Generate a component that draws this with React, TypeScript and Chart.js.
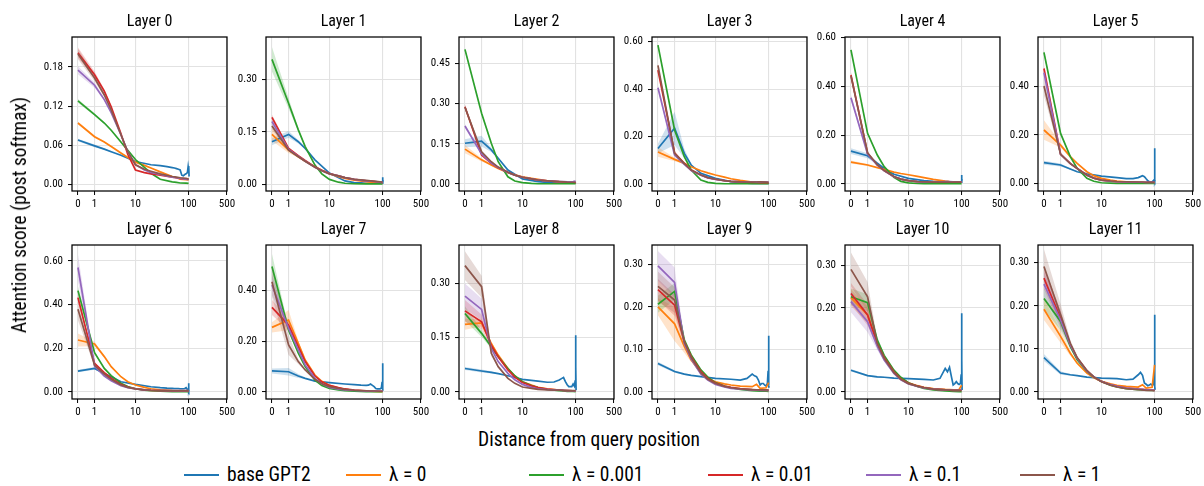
import React, { useEffect, useRef } from "react";
import { Chart, registerables } from "chart.js";

Chart.register(...registerables);

const FONT = "'Roboto Condensed', 'Liberation Sans Narrow', 'DejaVu Sans Condensed', Roboto, sans-serif";

const SERIES_LABELS = ["base GPT2", "λ = 0", "λ = 0.001", "λ = 0.01", "λ = 0.1", "λ = 1"];
const COLORS = ["#1f77b4", "#ff7f0e", "#2ca02c", "#d62728", "#9467bd", "#8c564b"];
const BAND_COLORS = [
  "rgba(31,119,180,0.22)",
  "rgba(255,127,14,0.22)",
  "rgba(44,160,44,0.22)",
  "rgba(214,39,40,0.22)",
  "rgba(148,103,189,0.22)",
  "rgba(140,86,75,0.22)",
];

// distance axis (log(1+d) scale)
const X_TICKS = [0, 1, 10, 100, 500];
const X_RANGE = [-0.22, 500];
// distances sampled for the λ models
const DIST = [0, 1, 2, 3, 5, 7, 10, 15, 20, 30, 50, 60, 70, 90, 100];
// distances sampled for base GPT2 (denser near the end)
const BASE_DIST = [0, 1, 2, 3, 5, 10, 20, 30, 40, 50, 55, 60, 65, 70, 75, 80, 85, 90, 95, 98, 100, 101, 102];
// band half-widths are given at the first four distances
const BAND_DIST_COUNT = 4;

// ---------- Layer 0 ----------
const L0_BASE = [0.068, 0.059, 0.054, 0.05, 0.0445, 0.035, 0.03, 0.0286, 0.027, 0.0256, 0.025, 0.024, 0.023, 0.022, 0.014, 0.013, 0.015, 0.016, 0.018, 0.027, 0.02, 0.028, 0.012];
const L0_LAMBDA = [
  [0.094, 0.073, 0.065, 0.058, 0.048, 0.041, 0.034, 0.029, 0.025, 0.019, 0.012, 0.01, 0.008, 0.007, 0.0067],
  [0.128, 0.107, 0.094, 0.083, 0.065, 0.052, 0.038, 0.026, 0.017, 0.0077, 0.0036, 0.0028, 0.002, 0.0017, 0.0015],
  [0.202, 0.168, 0.143, 0.119, 0.078, 0.046, 0.022, 0.018, 0.016, 0.014, 0.011, 0.01, 0.009, 0.008, 0.008],
  [0.175, 0.152, 0.13, 0.11, 0.076, 0.05, 0.03, 0.022, 0.018, 0.015, 0.011, 0.01, 0.009, 0.008, 0.007],
  [0.2, 0.163, 0.137, 0.114, 0.076, 0.05, 0.03, 0.023, 0.02, 0.016, 0.012, 0.011, 0.01, 0.009, 0.008],
];
const L0_BAND = [[0.002, 0.002, 0.001, 0.001], [0.002, 0.002, 0.001, 0.001], [0.003, 0.002, 0.001, 0.001], [0.008, 0.005, 0.003, 0.002], [0.006, 0.004, 0.002, 0.001], [0.008, 0.005, 0.003, 0.002]];
const L0_YTICKS = [0, 0.06, 0.12, 0.18];
const L0_YRANGE = [-0.0103, 0.226];

// ---------- Layer 1 ----------
const L1_BASE = [0.122, 0.143, 0.122, 0.103, 0.07, 0.032, 0.0096, 0.005, 0.004, 0.003, 0.003, 0.003, 0.003, 0.003, 0.003, 0.003, 0.003, 0.003, 0.003, 0.003, 0.02, 0.003, 0.012];
const L1_LAMBDA = [
  [0.143, 0.098, 0.079, 0.066, 0.05, 0.04, 0.03, 0.022, 0.017, 0.012, 0.0076, 0.0065, 0.0055, 0.0045, 0.004],
  [0.358, 0.232, 0.156, 0.108, 0.055, 0.03, 0.014, 0.006, 0.003, 0.0015, 0.001, 0.001, 0.001, 0.001, 0.001],
  [0.192, 0.103, 0.082, 0.068, 0.05, 0.04, 0.031, 0.024, 0.019, 0.014, 0.01, 0.009, 0.008, 0.006, 0.005],
  [0.18, 0.1, 0.08, 0.066, 0.049, 0.039, 0.03, 0.024, 0.019, 0.014, 0.01, 0.009, 0.008, 0.006, 0.005],
  [0.167, 0.098, 0.079, 0.066, 0.049, 0.039, 0.03, 0.024, 0.019, 0.0145, 0.011, 0.01, 0.009, 0.007, 0.006],
];
const L1_BAND = [[0.01, 0.01, 0.005, 0.002], [0.018, 0.008, 0.003, 0.002], [0.035, 0.015, 0.005, 0.002], [0.008, 0.004, 0.002, 0.001], [0.01, 0.004, 0.002, 0.001], [0.01, 0.004, 0.002, 0.001]];
const L1_YTICKS = [0, 0.15, 0.3];
const L1_YRANGE = [-0.0192, 0.422];

// ---------- Layer 2 ----------
const L2_BASE = [0.152, 0.16, 0.127, 0.096, 0.052, 0.019, 0.009, 0.006, 0.005, 0.005, 0.0045, 0.0045, 0.004, 0.004, 0.004, 0.004, 0.004, 0.004, 0.004, 0.004, 0.004, 0.004, 0.004];
const L2_LAMBDA = [
  [0.13, 0.09, 0.071, 0.058, 0.042, 0.034, 0.027, 0.021, 0.017, 0.012, 0.0075, 0.0065, 0.0055, 0.0045, 0.004],
  [0.502, 0.264, 0.152, 0.083, 0.027, 0.011, 0.005, 0.002, 0.001, 0.001, 0.001, 0.001, 0.001, 0.001, 0.001],
  [0.288, 0.108, 0.077, 0.061, 0.0435, 0.033, 0.025, 0.019, 0.015, 0.012, 0.0087, 0.008, 0.007, 0.0065, 0.006],
  [0.216, 0.112, 0.078, 0.061, 0.043, 0.033, 0.025, 0.019, 0.015, 0.012, 0.009, 0.0085, 0.008, 0.009, 0.011],
  [0.286, 0.12, 0.083, 0.063, 0.044, 0.033, 0.025, 0.019, 0.015, 0.012, 0.009, 0.008, 0.007, 0.0065, 0.006],
];
const L2_BAND = [[0.015, 0.02, 0.008, 0.003], [0.015, 0.006, 0.003, 0.002], [0.006, 0.004, 0.002, 0.001], [0.008, 0.004, 0.002, 0.001], [0.008, 0.004, 0.002, 0.001], [0.01, 0.004, 0.002, 0.001]];
const L2_YTICKS = [0, 0.15, 0.3, 0.45];
const L2_YRANGE = [-0.0261, 0.548];

// ---------- Layer 3 ----------
const L3_BASE = [0.15, 0.235, 0.129, 0.08, 0.045, 0.024, 0.01, 0.006, 0.004, 0.003, 0.003, 0.003, 0.003, 0.003, 0.003, 0.003, 0.003, 0.003, 0.003, 0.003, 0.003, 0.003, 0.003];
const L3_LAMBDA = [
  [0.135, 0.104, 0.087, 0.073, 0.056, 0.047, 0.038, 0.029, 0.022, 0.015, 0.0085, 0.007, 0.006, 0.005, 0.004],
  [0.586, 0.228, 0.115, 0.059, 0.017, 0.007, 0.003, 0.001, 0.001, 0.001, 0.001, 0.001, 0.001, 0.001, 0.001],
  [0.48, 0.132, 0.087, 0.059, 0.038, 0.027, 0.02, 0.014, 0.011, 0.009, 0.007, 0.0065, 0.006, 0.006, 0.006],
  [0.406, 0.122, 0.083, 0.057, 0.037, 0.026, 0.019, 0.014, 0.011, 0.009, 0.008, 0.008, 0.008, 0.008, 0.008],
  [0.5, 0.129, 0.086, 0.059, 0.038, 0.027, 0.02, 0.014, 0.011, 0.009, 0.008, 0.0085, 0.009, 0.008, 0.007],
];
const L3_BAND = [[0.02, 0.07, 0.02, 0.005], [0.02, 0.008, 0.003, 0.002], [0.006, 0.004, 0.002, 0.001], [0.01, 0.004, 0.002, 0.001], [0.01, 0.004, 0.002, 0.001], [0.01, 0.004, 0.002, 0.001]];
const L3_YTICKS = [0, 0.2, 0.4, 0.6];
const L3_YRANGE = [-0.0295, 0.62];

// ---------- Layer 4 ----------
const L4_BASE = [0.135, 0.116, 0.085, 0.064, 0.04, 0.023, 0.014, 0.011, 0.01, 0.01, 0.0095, 0.009, 0.009, 0.0085, 0.0085, 0.008, 0.008, 0.008, 0.008, 0.008, 0.037, 0.01, 0.02];
const L4_LAMBDA = [
  [0.09, 0.078, 0.067, 0.06, 0.049, 0.043, 0.038, 0.031, 0.026, 0.019, 0.012, 0.01, 0.009, 0.008, 0.008],
  [0.55, 0.208, 0.119, 0.071, 0.027, 0.011, 0.005, 0.002, 0.001, 0.001, 0.001, 0.001, 0.001, 0.001, 0.001],
  [0.447, 0.126, 0.078, 0.055, 0.03, 0.02, 0.014, 0.01, 0.008, 0.008, 0.008, 0.009, 0.009, 0.008, 0.008],
  [0.354, 0.123, 0.077, 0.054, 0.03, 0.02, 0.014, 0.01, 0.008, 0.008, 0.01, 0.01, 0.009, 0.008, 0.008],
  [0.443, 0.128, 0.079, 0.055, 0.031, 0.02, 0.014, 0.01, 0.009, 0.008, 0.008, 0.008, 0.008, 0.008, 0.008],
];
const L4_BAND = [[0.012, 0.01, 0.005, 0.002], [0.006, 0.004, 0.002, 0.001], [0.006, 0.004, 0.002, 0.001], [0.012, 0.004, 0.002, 0.001], [0.012, 0.004, 0.002, 0.001], [0.015, 0.004, 0.002, 0.001]];
const L4_YTICKS = [0, 0.2, 0.4, 0.6];
const L4_YRANGE = [-0.0287, 0.603];

// ---------- Layer 5 ----------
const L5_BASE = [0.086, 0.0765, 0.06, 0.049, 0.04, 0.031, 0.025, 0.021, 0.021, 0.025, 0.029, 0.033, 0.029, 0.02, 0.012, 0.008, 0.006, 0.008, 0.013, 0.016, 0.145, 0.01, 0.015];
const L5_LAMBDA = [
  [0.22, 0.158, 0.111, 0.083, 0.049, 0.033, 0.022, 0.015, 0.011, 0.008, 0.0055, 0.005, 0.004, 0.0035, 0.003],
  [0.538, 0.206, 0.111, 0.063, 0.022, 0.01, 0.004, 0.002, 0.001, 0.001, 0.001, 0.001, 0.001, 0.001, 0.001],
  [0.472, 0.121, 0.083, 0.063, 0.0355, 0.023, 0.015, 0.01, 0.008, 0.007, 0.006, 0.006, 0.0055, 0.0055, 0.0055],
  [0.455, 0.12, 0.082, 0.062, 0.035, 0.023, 0.015, 0.01, 0.008, 0.007, 0.006, 0.006, 0.0055, 0.0055, 0.0055],
  [0.4, 0.12, 0.082, 0.062, 0.035, 0.023, 0.015, 0.011, 0.009, 0.008, 0.007, 0.007, 0.006, 0.006, 0.006],
];
const L5_BAND = [[0.008, 0.006, 0.003, 0.001], [0.04, 0.01, 0.005, 0.002], [0.01, 0.004, 0.002, 0.001], [0.015, 0.004, 0.002, 0.001], [0.02, 0.004, 0.002, 0.001], [0.04, 0.006, 0.002, 0.001]];
const L5_YTICKS = [0, 0.2, 0.4];
const L5_YRANGE = [-0.0299, 0.601];

// ---------- Layer 6 ----------
const L6_BASE = [0.096, 0.108, 0.085, 0.07, 0.047, 0.035, 0.024, 0.02, 0.018, 0.017, 0.016, 0.016, 0.016, 0.015, 0.015, 0.015, 0.016, 0.02, 0.012, 0.012, 0.04, 0.005, 0.01];
const L6_LAMBDA = [
  [0.238, 0.22, 0.162, 0.116, 0.07, 0.047, 0.032, 0.021, 0.015, 0.01, 0.006, 0.005, 0.004, 0.0035, 0.003],
  [0.464, 0.18, 0.108, 0.075, 0.04, 0.025, 0.015, 0.009, 0.006, 0.004, 0.002, 0.002, 0.002, 0.002, 0.002],
  [0.432, 0.131, 0.089, 0.063, 0.035, 0.023, 0.015, 0.01, 0.0076, 0.006, 0.005, 0.005, 0.005, 0.005, 0.005],
  [0.57, 0.119, 0.073, 0.052, 0.029, 0.02, 0.014, 0.01, 0.008, 0.007, 0.006, 0.006, 0.006, 0.006, 0.006],
  [0.379, 0.122, 0.082, 0.058, 0.032, 0.021, 0.014, 0.01, 0.008, 0.007, 0.006, 0.006, 0.006, 0.006, 0.006],
];
const L6_BAND = [[0.006, 0.006, 0.003, 0.001], [0.03, 0.01, 0.004, 0.002], [0.02, 0.006, 0.002, 0.001], [0.02, 0.006, 0.002, 0.001], [0.06, 0.008, 0.003, 0.001], [0.05, 0.008, 0.003, 0.001]];
const L6_YTICKS = [0, 0.2, 0.4, 0.6];
const L6_YRANGE = [-0.032, 0.673];

// ---------- Layer 7 ----------
const L7_BASE = [0.083, 0.08, 0.063, 0.054, 0.043, 0.037, 0.0316, 0.029, 0.027, 0.026, 0.027, 0.0316, 0.026, 0.021, 0.014, 0.012, 0.012, 0.012, 0.016, 0.04, 0.113, 0.01, 0.005];
const L7_LAMBDA = [
  [0.255, 0.284, 0.192, 0.126, 0.067, 0.042, 0.026, 0.016, 0.0105, 0.007, 0.004, 0.003, 0.0025, 0.0018, 0.0013],
  [0.495, 0.245, 0.153, 0.1, 0.047, 0.026, 0.0145, 0.008, 0.005, 0.003, 0.001, 0.001, 0.001, 0.001, 0.001],
  [0.334, 0.264, 0.179, 0.12, 0.063, 0.04, 0.026, 0.017, 0.012, 0.008, 0.005, 0.004, 0.004, 0.003, 0.003],
  [0.422, 0.251, 0.166, 0.107, 0.054, 0.032, 0.018, 0.011, 0.008, 0.006, 0.004, 0.004, 0.0035, 0.003, 0.003],
  [0.435, 0.186, 0.12, 0.087, 0.05, 0.033, 0.021, 0.014, 0.0105, 0.007, 0.005, 0.004, 0.004, 0.003, 0.003],
];
const L7_BAND = [[0.01, 0.015, 0.008, 0.003], [0.02, 0.04, 0.01, 0.004], [0.05, 0.01, 0.004, 0.002], [0.03, 0.02, 0.006, 0.002], [0.04, 0.01, 0.004, 0.002], [0.06, 0.04, 0.01, 0.004]];
const L7_YTICKS = [0, 0.2, 0.4];
const L7_YRANGE = [-0.0276, 0.58];

// ---------- Layer 8 ----------
const L8_BASE = [0.065, 0.058, 0.054, 0.0506, 0.045, 0.035, 0.03, 0.027, 0.0276, 0.033, 0.037, 0.04, 0.0285, 0.02, 0.015, 0.015, 0.015, 0.022, 0.016, 0.03, 0.157, 0.07, 0.005];
const L8_LAMBDA = [
  [0.187, 0.191, 0.134, 0.102, 0.065, 0.044, 0.0285, 0.019, 0.013, 0.009, 0.0055, 0.0045, 0.004, 0.0035, 0.003],
  [0.217, 0.162, 0.125, 0.0975, 0.065, 0.045, 0.0285, 0.018, 0.012, 0.007, 0.004, 0.003, 0.002, 0.0015, 0.001],
  [0.224, 0.194, 0.129, 0.0975, 0.061, 0.041, 0.026, 0.017, 0.012, 0.008, 0.0055, 0.0045, 0.004, 0.0035, 0.003],
  [0.265, 0.228, 0.12, 0.084, 0.0515, 0.034, 0.021, 0.013, 0.009, 0.007, 0.005, 0.0045, 0.004, 0.0035, 0.003],
  [0.349, 0.291, 0.107, 0.07, 0.0377, 0.024, 0.0138, 0.01, 0.0074, 0.006, 0.005, 0.0045, 0.004, 0.004, 0.004],
];
const L8_BAND = [[0.004, 0.004, 0.003, 0.001], [0.015, 0.01, 0.005, 0.002], [0.02, 0.01, 0.005, 0.002], [0.03, 0.02, 0.006, 0.002], [0.035, 0.03, 0.008, 0.003], [0.04, 0.03, 0.008, 0.003]];
const L8_YTICKS = [0, 0.15, 0.3];
const L8_YRANGE = [-0.0193, 0.406];

// ---------- Layer 9 ----------
const L9_BASE = [0.067, 0.048, 0.042, 0.039, 0.036, 0.032, 0.03, 0.028, 0.032, 0.042, 0.038, 0.036, 0.028, 0.0165, 0.02, 0.02, 0.016, 0.014, 0.02, 0.05, 0.132, 0.015, 0.01];
const L9_LAMBDA = [
  [0.2, 0.16, 0.107, 0.075, 0.045, 0.032, 0.024, 0.019, 0.0165, 0.014, 0.0125, 0.018, 0.0086, 0.01, 0.022],
  [0.206, 0.236, 0.122, 0.087, 0.052, 0.035, 0.022, 0.014, 0.01, 0.006, 0.003, 0.0025, 0.002, 0.0018, 0.0016],
  [0.24, 0.204, 0.118, 0.083, 0.048, 0.032, 0.021, 0.014, 0.011, 0.008, 0.0055, 0.005, 0.0045, 0.004, 0.004],
  [0.296, 0.257, 0.114, 0.077, 0.042, 0.028, 0.018, 0.012, 0.0086, 0.0065, 0.005, 0.0045, 0.004, 0.004, 0.004],
  [0.248, 0.216, 0.118, 0.081, 0.045, 0.03, 0.02, 0.013, 0.01, 0.0075, 0.0055, 0.005, 0.005, 0.0048, 0.0047],
];
const L9_BAND = [[0.004, 0.003, 0.002, 0.001], [0.02, 0.04, 0.015, 0.005], [0.02, 0.02, 0.008, 0.003], [0.025, 0.025, 0.008, 0.003], [0.035, 0.035, 0.01, 0.003], [0.035, 0.03, 0.008, 0.003]];
const L9_YTICKS = [0, 0.1, 0.2, 0.3];
const L9_YRANGE = [-0.0164, 0.345];

// ---------- Layer 10 ----------
const L10_BASE = [0.0515, 0.039, 0.036, 0.035, 0.033, 0.032, 0.03, 0.0285, 0.0325, 0.056, 0.048, 0.0586, 0.0364, 0.0166, 0.02, 0.0245, 0.02, 0.018, 0.02, 0.04, 0.187, 0.076, 0.005];
const L10_LAMBDA = [
  [0.224, 0.183, 0.114, 0.08, 0.048, 0.032, 0.022, 0.015, 0.011, 0.008, 0.0063, 0.006, 0.005, 0.006, 0.016],
  [0.226, 0.212, 0.123, 0.087, 0.052, 0.035, 0.022, 0.013, 0.0087, 0.005, 0.0024, 0.002, 0.0015, 0.001, 0.001],
  [0.234, 0.183, 0.115, 0.082, 0.048, 0.031, 0.0206, 0.014, 0.0103, 0.007, 0.005, 0.0045, 0.004, 0.004, 0.004],
  [0.2145, 0.167, 0.108, 0.076, 0.044, 0.029, 0.019, 0.013, 0.0095, 0.007, 0.005, 0.0045, 0.004, 0.004, 0.005],
  [0.291, 0.226, 0.115, 0.08, 0.046, 0.03, 0.0198, 0.014, 0.0103, 0.007, 0.005, 0.0045, 0.004, 0.004, 0.004],
];
const L10_BAND = [[0.003, 0.002, 0.002, 0.001], [0.02, 0.02, 0.008, 0.003], [0.02, 0.02, 0.008, 0.003], [0.025, 0.025, 0.008, 0.003], [0.025, 0.025, 0.008, 0.003], [0.04, 0.035, 0.01, 0.003]];
const L10_YTICKS = [0, 0.1, 0.2, 0.3];
const L10_YRANGE = [-0.0166, 0.349];

// ---------- Layer 11 ----------
const L11_BASE = [0.08, 0.044, 0.04, 0.038, 0.0347, 0.0324, 0.031, 0.0285, 0.03, 0.04, 0.0455, 0.0386, 0.0208, 0.018, 0.0147, 0.016, 0.0185, 0.016, 0.017, 0.04, 0.179, 0.013, 0.005];
const L11_LAMBDA = [
  [0.192, 0.129, 0.09, 0.067, 0.044, 0.033, 0.0247, 0.019, 0.0154, 0.013, 0.0116, 0.017, 0.0093, 0.011, 0.063],
  [0.217, 0.1635, 0.106, 0.075, 0.048, 0.035, 0.0247, 0.016, 0.0116, 0.008, 0.0054, 0.005, 0.0045, 0.004, 0.004],
  [0.264, 0.171, 0.11, 0.0787, 0.049, 0.035, 0.0247, 0.017, 0.013, 0.009, 0.007, 0.006, 0.005, 0.0045, 0.0039],
  [0.25, 0.167, 0.109, 0.078, 0.049, 0.035, 0.0245, 0.017, 0.013, 0.009, 0.007, 0.006, 0.005, 0.0045, 0.004],
  [0.291, 0.179, 0.113, 0.08, 0.05, 0.035, 0.024, 0.016, 0.0116, 0.008, 0.0054, 0.005, 0.004, 0.0035, 0.003],
];
const L11_BAND = [[0.008, 0.004, 0.002, 0.001], [0.025, 0.015, 0.006, 0.002], [0.025, 0.02, 0.006, 0.002], [0.025, 0.02, 0.006, 0.002], [0.03, 0.02, 0.006, 0.002], [0.04, 0.025, 0.008, 0.003]];
const L11_YTICKS = [0, 0.1, 0.2, 0.3];
const L11_YRANGE = [-0.0162, 0.341];

const PANELS = [
  { base: L0_BASE, lambda: L0_LAMBDA, band: L0_BAND, yTicks: L0_YTICKS, yRange: L0_YRANGE },
  { base: L1_BASE, lambda: L1_LAMBDA, band: L1_BAND, yTicks: L1_YTICKS, yRange: L1_YRANGE },
  { base: L2_BASE, lambda: L2_LAMBDA, band: L2_BAND, yTicks: L2_YTICKS, yRange: L2_YRANGE },
  { base: L3_BASE, lambda: L3_LAMBDA, band: L3_BAND, yTicks: L3_YTICKS, yRange: L3_YRANGE },
  { base: L4_BASE, lambda: L4_LAMBDA, band: L4_BAND, yTicks: L4_YTICKS, yRange: L4_YRANGE },
  { base: L5_BASE, lambda: L5_LAMBDA, band: L5_BAND, yTicks: L5_YTICKS, yRange: L5_YRANGE },
  { base: L6_BASE, lambda: L6_LAMBDA, band: L6_BAND, yTicks: L6_YTICKS, yRange: L6_YRANGE },
  { base: L7_BASE, lambda: L7_LAMBDA, band: L7_BAND, yTicks: L7_YTICKS, yRange: L7_YRANGE },
  { base: L8_BASE, lambda: L8_LAMBDA, band: L8_BAND, yTicks: L8_YTICKS, yRange: L8_YRANGE },
  { base: L9_BASE, lambda: L9_LAMBDA, band: L9_BAND, yTicks: L9_YTICKS, yRange: L9_YRANGE },
  { base: L10_BASE, lambda: L10_LAMBDA, band: L10_BAND, yTicks: L10_YTICKS, yRange: L10_YRANGE },
  { base: L11_BASE, lambda: L11_LAMBDA, band: L11_BAND, yTicks: L11_YTICKS, yRange: L11_YRANGE },
];

// ---------- layout ----------
const PANEL_LEFTS = [72, 266, 459, 652, 845, 1038];
const ROW_TOPS = [37, 245];
const PLOT_W = 155;
const PLOT_H = 154;
const Y_AXIS_W = 48;
const TITLE_H = 30;
const X_AXIS_H = 24;
const RIGHT_PAD = 16;
const CANVAS_W = Y_AXIS_W + PLOT_W + RIGHT_PAD;
const CANVAS_H = TITLE_H + PLOT_H + X_AXIS_H;
const LEGEND_LINE_X = [184, 346, 529, 708, 866, 1020];

const frame = {
  id: "frame",
  afterDatasetsDraw(chart: any) {
    const { ctx, chartArea: a } = chart;
    ctx.save();
    ctx.strokeStyle = "#000";
    ctx.lineWidth = 1.25;
    ctx.strokeRect(a.left, a.top, a.right - a.left, a.bottom - a.top);
    ctx.restore();
  },
};

function Panel({ idx }: { idx: number }) {
  const ref = useRef<HTMLCanvasElement | null>(null);
  useEffect(() => {
    const p = PANELS[idx];
    const series = [
      { dist: BASE_DIST, vals: p.base },
      ...p.lambda.map((v) => ({ dist: DIST, vals: v })),
    ];
    const datasets: any[] = [];
    series.forEach((s, i) => {
      const n = BAND_DIST_COUNT;
      const bw = p.band[i];
      datasets.push({
        data: bw.slice(0, n).map((w, k) => ({ x: s.dist[k] + 1, y: s.vals[k] + w })),
        borderColor: "rgba(0,0,0,0)",
        borderWidth: 1,
        pointRadius: 0,
        fill: false,
        order: 30 - i,
      });
      datasets.push({
        data: bw.slice(0, n).map((w, k) => ({ x: s.dist[k] + 1, y: s.vals[k] - w })),
        borderColor: "rgba(0,0,0,0)",
        borderWidth: 1,
        pointRadius: 0,
        fill: "-1",
        backgroundColor: BAND_COLORS[i],
        order: 30 - i,
      });
    });
    series.forEach((s, i) => {
      datasets.push({
        label: SERIES_LABELS[i],
        data: s.dist.map((d, k) => ({ x: d + 1, y: s.vals[k] })),
        borderColor: COLORS[i],
        borderWidth: 1.7,
        pointRadius: 0,
        fill: false,
        tension: 0,
        order: 10 - i,
      });
    });
    const tickFont = { family: FONT, size: 11 };
    const chart = new Chart(ref.current as HTMLCanvasElement, {
      type: "line",
      data: { datasets },
      options: {
        animation: false,
        responsive: false,
        devicePixelRatio: 1,
        layout: { padding: { left: 0, right: RIGHT_PAD, top: 0, bottom: 0 } },
        plugins: {
          legend: { display: false },
          tooltip: { enabled: false },
          title: {
            display: true,
            text: `Layer ${idx}`,
            fullSize: false,
            color: "#000",
            font: { family: FONT, size: 16, weight: "normal", lineHeight: 1.125 },
            padding: { top: 6, bottom: 6 },
          },
        },
        scales: {
          x: {
            type: "logarithmic",
            min: X_RANGE[0] + 1,
            max: X_RANGE[1] + 1,
            afterBuildTicks: (s: any) => {
              s.ticks = X_TICKS.map((v) => ({ value: v + 1 }));
            },
            afterFit: (s: any) => {
              s.height = X_AXIS_H;
            },
            ticks: {
              autoSkip: false,
              maxRotation: 0,
              minRotation: 0,
              padding: 3,
              color: "#000",
              font: tickFont,
              callback: (v: any) => String(Math.round(Number(v) - 1)),
            },
            grid: { color: "#e2e2e2", lineWidth: 1.1, tickColor: "#000", tickLength: 4, tickWidth: 1 },
            border: { display: false },
          },
          y: {
            type: "linear",
            min: p.yRange[0],
            max: p.yRange[1],
            afterBuildTicks: (s: any) => {
              s.ticks = p.yTicks.map((v) => ({ value: v }));
            },
            afterFit: (s: any) => {
              s.width = Y_AXIS_W;
            },
            ticks: {
              padding: 5,
              color: "#000",
              font: tickFont,
              callback: (v: any) => Number(v).toFixed(2),
            },
            grid: { color: "#e2e2e2", lineWidth: 1.1, tickColor: "#000", tickLength: 4, tickWidth: 1 },
            border: { display: false },
          },
        },
      } as any,
      plugins: [frame],
    });
    return () => chart.destroy();
  }, [idx]);
  const col = idx % 6;
  const row = Math.floor(idx / 6);
  return (
    <canvas
      ref={ref}
      width={CANVAS_W}
      height={CANVAS_H}
      style={{
        position: "absolute",
        left: PANEL_LEFTS[col] - Y_AXIS_W,
        top: ROW_TOPS[row] - TITLE_H,
        width: CANVAS_W,
        height: CANVAS_H,
      }}
    />
  );
}

export default function App() {
  return (
    <div
      style={{
        position: "fixed",
        left: 0,
        top: 0,
        width: 1204,
        height: 486,
        background: "#fff",
        overflow: "hidden",
        fontFamily: FONT,
        color: "#000",
      }}
    >
      {PANELS.map((_, i) => (
        <Panel key={i} idx={i} />
      ))}
      <div
        style={{
          position: "absolute",
          left: 20,
          top: 215,
          transform: "translate(-50%, -50%) rotate(-90deg)",
          whiteSpace: "nowrap",
          fontSize: 19.5,
          lineHeight: "24px",
        }}
      >
        Attention score (post softmax)
      </div>
      <div
        style={{
          position: "absolute",
          left: 589,
          top: 440,
          transform: "translate(-50%, -50%)",
          whiteSpace: "nowrap",
          fontSize: 19.5,
          lineHeight: "24px",
        }}
      >
        Distance from query position
      </div>
      {SERIES_LABELS.map((label, i) => (
        <div
          key={label}
          style={{
            position: "absolute",
            left: LEGEND_LINE_X[i],
            top: 475,
            transform: "translateY(-50%)",
            display: "flex",
            alignItems: "center",
            whiteSpace: "nowrap",
            fontSize: 19.5,
            lineHeight: "24px",
          }}
        >
          <div style={{ width: 35, height: 2, background: COLORS[i], marginRight: 8 }} />
          <span>{label}</span>
        </div>
      ))}
    </div>
  );
}
